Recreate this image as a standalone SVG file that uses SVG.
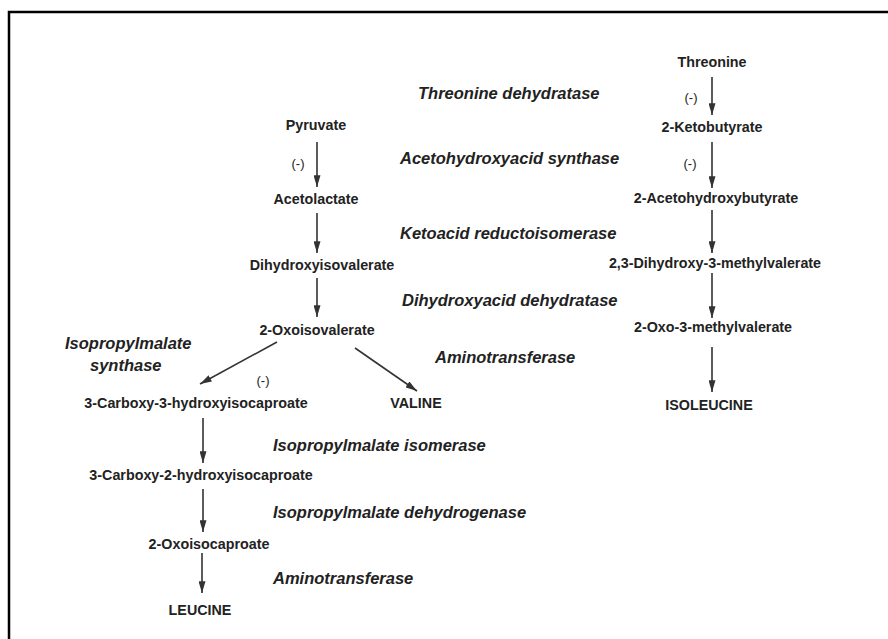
<svg xmlns="http://www.w3.org/2000/svg" width="888" height="639" viewBox="0 0 888 639">
<defs>
<marker id="ah" viewBox="0 0 10 6" refX="10" refY="3" markerWidth="12" markerHeight="7" markerUnits="userSpaceOnUse" orient="auto">
<path d="M0,0 L10,3 L0,6 Z" fill="#333"/>
</marker>
<style>
.c{font-family:"Liberation Sans",Arial,sans-serif;font-size:14.3px;font-weight:bold;fill:#222;text-anchor:middle}
.e{font-family:"Liberation Sans",Arial,sans-serif;font-size:16.5px;font-weight:bold;font-style:italic;fill:#222}
.n{font-family:"Liberation Sans",Arial,sans-serif;font-size:13px;fill:#222;text-anchor:middle}
.a{stroke:#333;stroke-width:1.6;fill:none;marker-end:url(#ah)}
</style>
</defs>
<rect width="888" height="639" fill="#fff"/>
<path d="M9,639 V12 H888" fill="none" stroke="#000" stroke-width="2.5"/>

<g id="connectors">
<line class="a" x1="317" y1="142" x2="317" y2="187"/>
<line class="a" x1="317" y1="213" x2="317" y2="253"/>
<line class="a" x1="317" y1="278" x2="317" y2="317"/>
<line class="a" x1="277" y1="342" x2="200" y2="384"/>
<line class="a" x1="355" y1="348" x2="417" y2="391"/>
<line class="a" x1="712" y1="77" x2="712" y2="115"/>
<line class="a" x1="712" y1="142" x2="712" y2="188"/>
<line class="a" x1="712" y1="210" x2="712" y2="253"/>
<line class="a" x1="712" y1="273" x2="712" y2="318"/>
<line class="a" x1="712" y1="347" x2="712" y2="392"/>
<line class="a" x1="203" y1="418" x2="203" y2="463"/>
<line class="a" x1="203" y1="489" x2="203" y2="532"/>
<line class="a" x1="202" y1="553" x2="202" y2="593"/>
</g>

<g id="threonine"><text class="c" x="712" y="67">Threonine</text></g>
<g id="ketobutyrate"><text class="c" x="712" y="132">2-Ketobutyrate</text></g>
<g id="acetohydroxybutyrate"><text class="c" x="716" y="203">2-Acetohydroxybutyrate</text></g>
<g id="dihydroxymethylvalerate"><text class="c" x="715" y="268">2,3-Dihydroxy-3-methylvalerate</text></g>
<g id="oxomethylvalerate"><text class="c" x="713" y="332">2-Oxo-3-methylvalerate</text></g>
<g id="isoleucine"><text class="c" x="709" y="410">ISOLEUCINE</text></g>

<g id="pyruvate"><text class="c" x="316" y="130">Pyruvate</text></g>
<g id="acetolactate"><text class="c" x="316" y="204">Acetolactate</text></g>
<g id="dihydroxyisovalerate"><text class="c" x="322" y="270">Dihydroxyisovalerate</text></g>
<g id="oxoisovalerate"><text class="c" x="317" y="335">2-Oxoisovalerate</text></g>
<g id="carboxy3"><text class="c" x="196" y="408">3-Carboxy-3-hydroxyisocaproate</text></g>
<g id="valine"><text class="c" x="416" y="408">VALINE</text></g>
<g id="carboxy2"><text class="c" x="201" y="480">3-Carboxy-2-hydroxyisocaproate</text></g>
<g id="oxoisocaproate"><text class="c" x="209" y="549">2-Oxoisocaproate</text></g>
<g id="leucine"><text class="c" x="200" y="615">LEUCINE</text></g>

<g id="enzymes">
<text class="e" x="418" y="99">Threonine dehydratase</text>
<text class="e" x="400" y="164">Acetohydroxyacid synthase</text>
<text class="e" x="400" y="239">Ketoacid reductoisomerase</text>
<text class="e" x="402" y="306">Dihydroxyacid dehydratase</text>
<text class="e" x="435" y="363">Aminotransferase</text>
<text class="e" x="65" y="349">Isopropylmalate</text>
<text class="e" x="90" y="371">synthase</text>
<text class="e" x="273" y="451">Isopropylmalate isomerase</text>
<text class="e" x="273" y="518">Isopropylmalate dehydrogenase</text>
<text class="e" x="273" y="584">Aminotransferase</text>
</g>

<g id="inhibitions">
<text class="n" x="298" y="168">(-)</text>
<text class="n" x="691" y="102">(-)</text>
<text class="n" x="690" y="168">(-)</text>
<text class="n" x="263" y="385">(-)</text>
</g>
</svg>
